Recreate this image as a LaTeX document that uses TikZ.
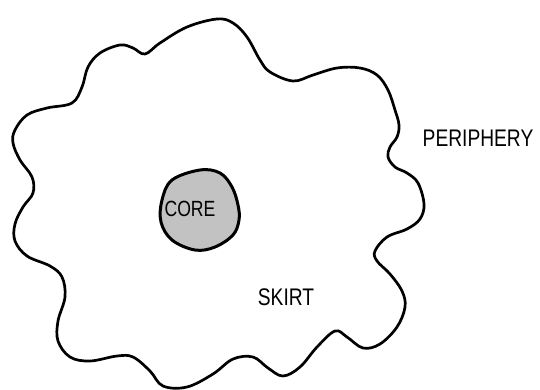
\documentclass[tikz,border=0pt]{standalone}
\usepackage{fontspec}
\setmainfont{Liberation Sans}
\newfontfamily\lblfont[FakeStretch=0.8]{Liberation Sans}
\usepackage{tikz}
\usetikzlibrary{positioning}

\begin{document}
\begin{tikzpicture}[
  x=1pt, y=-1pt,
  outline/.style={draw=black, line width=2.7pt, line join=round},
  corefill/.style={draw=black, line width=3pt, fill=black!24},
  label/.style={font=\lblfont\fontsize{24}{26}\selectfont, inner sep=0pt},
]
  \useasboundingbox (0,0) rectangle (540,389);

  % wavy outer boundary of the skirt
  \draw[outline] plot[smooth cycle, tension=0.6] coordinates {
    (217,19) (233,23) (247,37) (260,60) (270,72) (293,81) (313,75)
    (337,68) (360,68) (377,75) (388,90) (395,110) (399,125) (397,137)
    (390,147) (388,157) (395,167) (407,173) (418,183) (424,204)
    (420,219) (407,229) (387,237) (375,251) (377,261) (390,274)
    (402,291) (405,307) (397,327) (380,344) (363,348) (347,337)
    (335,331) (317,347) (300,367) (283,376) (268,368) (253,357)
    (233,359) (213,374) (187,387) (163,386) (150,371) (133,357)
    (117,356) (90,361) (70,357) (58,341) (58,321) (65,297) (62,277)
    (50,266) (27,256) (15,241) (15,224) (23,207) (33,193) (32,177)
    (20,160) (13,143) (15,130) (27,115) (47,108) (72,103) (82,87)
    (88,67) (100,53) (120,45) (133,48) (145,54) (160,43) (187,27)};

  % shaded core
  \draw[corefill] plot[smooth cycle, tension=0.6] coordinates {
    (200,170) (220,173) (232,187) (238,205) (239,220) (233,235)
    (215,247) (195,250) (172,240) (161,222) (162,200) (172,180)};

  \node[label, font=\lblfont\fontsize{22}{24}\selectfont] (core) at (190,209) {CORE};
  \node[label] (skirt) at (286,297) {SKIRT};
  \node[label] (periphery) at (478,138) {PERIPHERY};
\end{tikzpicture}
\end{document}
